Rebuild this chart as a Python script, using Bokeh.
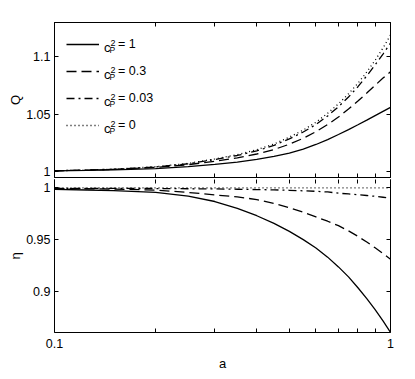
from bokeh.plotting import figure
from bokeh.layouts import column
from bokeh.models import (Range1d, FixedTicker, LogAxis, LinearAxis, Legend,
                          LegendItem, Label, Title, CustomJSTickFormatter)
from bokeh.core.properties import value
from bokeh.embed import file_html
from bokeh.resources import INLINE

# ---------------- data ----------------
a_vals = [0.1, 0.125, 0.15, 0.2, 0.25, 0.3, 0.35, 0.4, 0.45, 0.5,
          0.55, 0.6, 0.65, 0.7, 0.75, 0.8, 0.85, 0.9, 0.95, 1.0]

q_c1 = [1.0006, 1.0010, 1.0014, 1.0026, 1.0042, 1.0062, 1.0083, 1.0106, 1.0132, 1.0161,
        1.0196, 1.0236, 1.0279, 1.0323, 1.0366, 1.0408, 1.0448, 1.0488, 1.0525, 1.0560]
q_c03 = [1.0007, 1.0012, 1.0018, 1.0036, 1.0060, 1.0090, 1.0120, 1.0153, 1.0192, 1.0238,
         1.0290, 1.0348, 1.0410, 1.0475, 1.0545, 1.0615, 1.0685, 1.0752, 1.0815, 1.0870]
q_c003 = [1.0007, 1.0013, 1.0020, 1.0040, 1.0068, 1.0105, 1.0140, 1.0180, 1.0228, 1.0285,
          1.0345, 1.0410, 1.0485, 1.0565, 1.0650, 1.0740, 1.0835, 1.0930, 1.1025, 1.1120]
q_c0 = [1.0007, 1.0013, 1.0021, 1.0042, 1.0071, 1.0110, 1.0147, 1.0190, 1.0240, 1.0300,
        1.0362, 1.0430, 1.0508, 1.0590, 1.0678, 1.0770, 1.0868, 1.0970, 1.1078, 1.1190]

eta_c1 = [0.9984, 0.9979, 0.9973, 0.9955, 0.9920, 0.9868, 0.9802, 0.9731, 0.9657, 0.9580,
          0.9501, 0.9420, 0.9332, 0.9238, 0.9142, 0.9037, 0.8933, 0.8826, 0.8718, 0.8606]
eta_c03 = [0.9993, 0.9991, 0.9988, 0.9978, 0.9955, 0.9932, 0.9912, 0.9887, 0.9850, 0.9808,
           0.9764, 0.9720, 0.9678, 0.9635, 0.9585, 0.9532, 0.9478, 0.9422, 0.9366, 0.9312]
eta_c003 = [0.9995, 0.9995, 0.9994, 0.9993, 0.9991, 0.9989, 0.9986, 0.9983, 0.9980, 0.9976,
            0.9971, 0.9966, 0.9960, 0.9948, 0.9941, 0.9934, 0.9926, 0.9918, 0.9909, 0.9900]
eta_c0 = [1.0, 1.0, 1.0, 1.0, 1.0, 1.0, 1.0, 1.0, 1.0, 1.0,
          1.0, 1.0, 1.0, 1.0, 1.0, 1.0, 1.0, 1.0, 1.0, 1.0]

legend_values = ["1", "0.3", "0.03", "0"]
x_major_ticks = [0.1, 1.0]
x_minor_ticks = [0.2, 0.3, 0.4, 0.5, 0.6, 0.7, 0.8, 0.9]
q_ticks = [1.0, 1.05, 1.1]
eta_ticks = [0.9, 0.95, 1.0]

FONT = "Liberation Sans"
FS = "12.5px"
LW = 1.3
styles = [dict(line_dash="solid"), dict(line_dash="10 5"),
          dict(line_dash="8 4 2 4"), dict(line_dash="1 3")]

fmt = CustomJSTickFormatter(code="return tick.toString()")


def style_axis(ax, ticker, show_labels, line=True):
    ax.ticker = ticker
    ax.formatter = fmt
    ax.major_tick_in = 4
    ax.major_tick_out = 0
    ax.minor_tick_in = 4
    ax.minor_tick_out = 0
    ax.axis_line_color = "black" if line else None
    ax.major_tick_line_color = "black"
    ax.minor_tick_line_color = "black"
    ax.major_label_text_font = FONT
    ax.axis_label_text_font = FONT
    ax.axis_label_text_font_style = "normal"
    ax.axis_label_text_font_size = "13px"
    ax.axis_label_text_color = "black"
    if show_labels:
        ax.major_label_text_font_size = FS
        ax.major_label_text_color = "black"
        ax.major_label_standoff = 4
    else:
        ax.major_label_text_font_size = "0px"
        ax.major_label_text_color = None
        ax.major_label_standoff = 0


def make_fig(height, yr, top, bottom, outline=True):
    p = figure(width=408, height=height, x_axis_type="log",
               x_range=Range1d(0.1, 1.0), y_range=Range1d(*yr),
               output_backend="svg", toolbar_location=None,
               min_border_left=54, min_border_right=18,
               min_border_top=top, min_border_bottom=bottom)
    p.grid.visible = False
    p.outline_line_color = "black" if outline else None
    p.background_fill_color = "white"
    p.border_fill_color = "white"
    return p


def xticker():
    return FixedTicker(ticks=x_major_ticks, minor_ticks=x_minor_ticks)


def side_title(p, text):
    p.add_layout(Title(text=text, align="center", text_font=FONT,
                       text_font_size="13px", text_font_style="normal",
                       text_color="black", standoff=2, offset=0), "left")


# ---------------- top panel (Q) ----------------
p1 = make_fig(179, (0.9948, 1.130), 22, 2)
renderers = []
for ys, st in zip([q_c1, q_c03, q_c003, q_c0], styles):
    r = p1.line(a_vals, ys, line_color="black", line_width=LW, **st)
    renderers.append(r)

style_axis(p1.xaxis[0], xticker(), False)
p1.add_layout(LogAxis(), "above")
style_axis(p1.above[0], xticker(), False)
style_axis(p1.yaxis[0], FixedTicker(ticks=q_ticks), True)
p1.add_layout(LinearAxis(), "right")
style_axis(p1.right[0], FixedTicker(ticks=q_ticks), False)
side_title(p1, "Q")

items = [LegendItem(label=value("= " + v), renderers=[r])
         for v, r in zip(legend_values, renderers)]
legend = Legend(items=items, location="top_left", margin=12, padding=0,
                spacing=7, glyph_width=33, glyph_height=20, label_height=20,
                label_standoff=19, background_fill_alpha=0, border_line_alpha=0,
                label_text_font=FONT, label_text_font_size=FS,
                label_text_color="black")
p1.add_layout(legend)

for i in range(len(legend_values)):
    base = 177 - 44 - 27 * i
    p1.add_layout(Label(x=49.5, y=base - 2.5, x_units="screen", y_units="screen",
                        text="c", text_font=FONT, text_font_size="13px",
                        text_color="black",
                        text_baseline="alphabetic", text_align="left"))
    p1.add_layout(Label(x=56, y=base + 2, x_units="screen", y_units="screen",
                        text="2", text_font=FONT, text_font_size="9px",
                        text_color="black",
                        text_baseline="alphabetic", text_align="left"))
    p1.add_layout(Label(x=55, y=base - 5.7, x_units="screen", y_units="screen",
                        text="P", text_font=FONT, text_font_size="8.5px",
                        text_color="black",
                        text_baseline="alphabetic", text_align="left"))

# ---------------- bottom panel (eta) ----------------
p2 = make_fig(198, (0.8606, 1.008), 0, 45, outline=False)
for ys, st in zip([eta_c1, eta_c03, eta_c003, eta_c0], styles):
    p2.line(a_vals, ys, line_color="black", line_width=LW, **st)

style_axis(p2.xaxis[0], xticker(), True)
p2.xaxis[0].major_label_standoff = 6
p2.xaxis[0].axis_label = "a"
p2.xaxis[0].axis_label_standoff = 5
p2.add_layout(LogAxis(), "above")
style_axis(p2.above[0], xticker(), False, line=False)
style_axis(p2.yaxis[0], FixedTicker(ticks=eta_ticks), True)
p2.add_layout(LinearAxis(), "right")
style_axis(p2.right[0], FixedTicker(ticks=eta_ticks), False)
side_title(p2, "η")

layout = column(p1, p2, spacing=0)
open("out.html", "w").write(file_html(layout, INLINE))
